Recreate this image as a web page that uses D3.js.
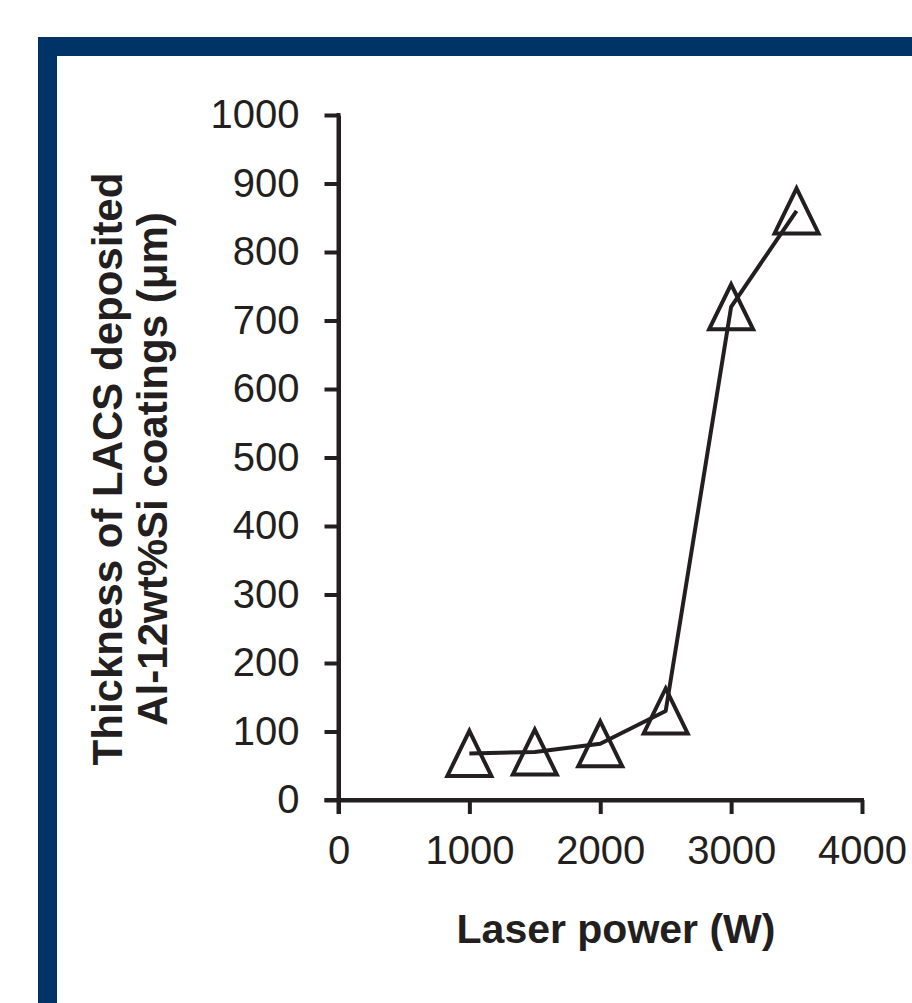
<!DOCTYPE html>
<html>
<head>
<meta charset="utf-8">
<script src="https://cdn.jsdelivr.net/npm/d3@7"></script>
<style>
  html, body { margin: 0; padding: 0; background: #fff; }
  svg { display: block; }
</style>
</head>
<body>
<svg id="chart" width="912" height="1003"></svg>
<script>
const laserPower = [1000, 1500, 2000, 2500, 3000, 3500];
const thickness = [68, 70, 82, 130, 720, 860];
const xTicks = [0, 1000, 2000, 3000, 4000];
const yTicks = [0, 100, 200, 300, 400, 500, 600, 700, 800, 900, 1000];
const xTitle = "Laser power (W)";
const yTitleLines = ["Thickness of LACS deposited", "Al-12wt%Si coatings (μm)"];

const ink = "#231f20";
const sw = 4;
const svg = d3.select("#chart");

// frame
svg.append("rect").attr("x", 38).attr("y", 37).attr("width", 912 - 38).attr("height", 19).attr("fill", "#003466");
svg.append("rect").attr("x", 38).attr("y", 37).attr("width", 19).attr("height", 1003 - 37).attr("fill", "#003466");

const x = d3.scaleLinear().domain([0, 4000]).range([338.5, 862]);
const y = d3.scaleLinear().domain([0, 1000]).range([800, 115]);
const fmt = d3.format("d");

// y axis
const yAxis = svg.append("g").attr("transform", `translate(${x(0)},0)`)
  .call(d3.axisLeft(y).tickValues(yTicks).tickFormat(fmt).tickSize(14).tickSizeOuter(0).tickPadding(25));
yAxis.select(".domain").attr("stroke", ink).attr("stroke-width", sw);
yAxis.selectAll(".tick line").attr("stroke", ink).attr("stroke-width", sw);
yAxis.selectAll(".tick text").attr("fill", ink).style("font-family", "Liberation Sans, Arial, sans-serif").style("font-size", "40px");

// x axis
const xAxis = svg.append("g").attr("transform", `translate(0,${y(0)})`)
  .call(d3.axisBottom(x).tickValues(xTicks).tickFormat(fmt).tickSize(14).tickSizeOuter(0).tickPadding(22));
xAxis.select(".domain").attr("stroke", ink).attr("stroke-width", sw);
xAxis.selectAll(".tick line").attr("stroke", ink).attr("stroke-width", sw);
xAxis.selectAll(".tick text").attr("fill", ink).style("font-family", "Liberation Sans, Arial, sans-serif").style("font-size", "40px");

// extend axis lines to meet the zero ticks
svg.append("line").attr("x1", x(0) - 14).attr("x2", x(4000) + sw / 2).attr("y1", y(0)).attr("y2", y(0))
  .attr("stroke", ink).attr("stroke-width", sw);
svg.append("line").attr("x1", x(0)).attr("x2", x(0)).attr("y1", y(1000) - sw / 2).attr("y2", y(0) + 14)
  .attr("stroke", ink).attr("stroke-width", sw);

const data = laserPower.map((p, i) => ({ p, t: thickness[i] }));

// markers
const tw = 22, th = 22.5;
svg.append("g").selectAll("path").data(data).join("path")
  .attr("d", d => {
    const cx = x(d.p), cy = y(d.t);
    return `M${cx},${cy - th}L${cx + tw},${cy + th}L${cx - tw},${cy + th}Z`;
  })
  .attr("fill", "#fff").attr("stroke", ink).attr("stroke-width", sw).attr("stroke-linejoin", "miter");

// line
const line = d3.line().x(d => x(d.p)).y(d => y(d.t));
svg.append("path").datum(data).attr("d", line)
  .attr("fill", "none").attr("stroke", ink).attr("stroke-width", sw).attr("stroke-linejoin", "round");

// titles
svg.append("text").attr("x", 616).attr("y", 943).attr("text-anchor", "middle")
  .attr("fill", ink).style("font-family", "Liberation Sans, Arial, sans-serif")
  .style("font-size", "41px").style("font-weight", "bold").text(xTitle);

const yt = svg.append("text").attr("transform", "translate(0,469) rotate(-90)")
  .attr("text-anchor", "middle").attr("fill", ink)
  .style("font-family", "Liberation Sans, Arial, sans-serif")
  .style("font-size", "42px").style("font-weight", "bold");
yt.append("tspan").attr("x", 0).attr("y", 122).text(yTitleLines[0]);
yt.append("tspan").attr("x", 0).attr("y", 167).text(yTitleLines[1]);
</script>
</body>
</html>
